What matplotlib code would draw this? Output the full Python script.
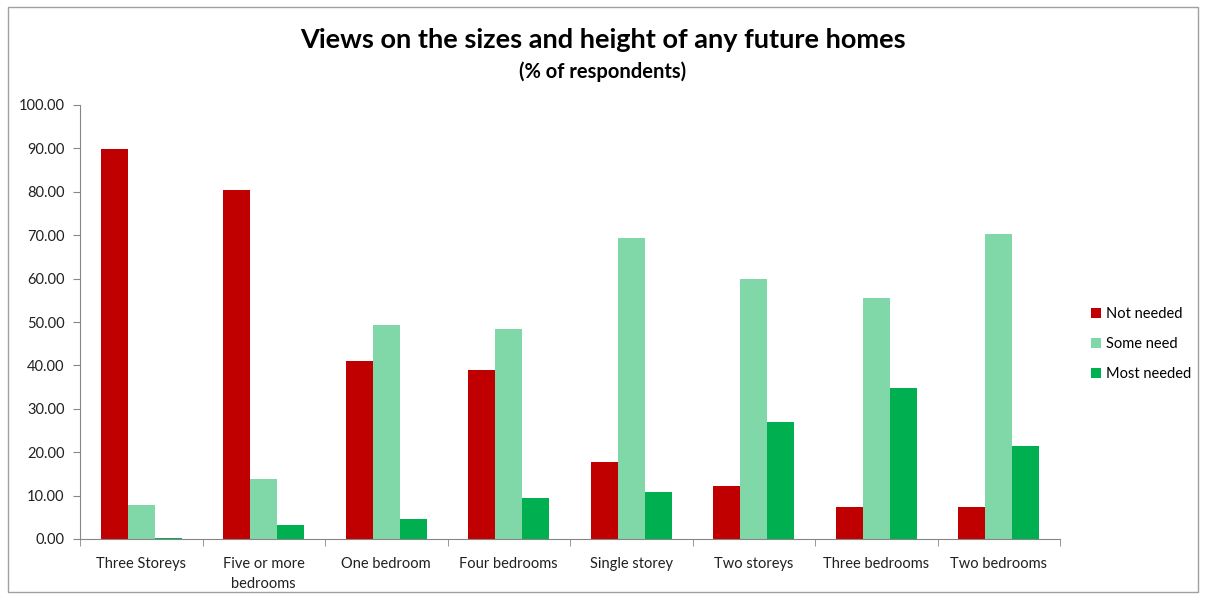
import matplotlib
matplotlib.use("Agg")
import matplotlib.pyplot as plt
import numpy as np
from matplotlib.patches import Rectangle

categories = ["Three Storeys", "Five or more\nbedrooms", "One bedroom", "Four bedrooms",
              "Single storey", "Two storeys", "Three bedrooms", "Two bedrooms"]
not_needed = [89.9, 80.5, 40.9, 38.9, 17.7, 12.2, 7.4, 7.4]
some_need = [7.8, 13.8, 49.2, 48.5, 69.4, 59.8, 55.6, 70.3]
most_needed = [0.3, 3.2, 4.6, 9.4, 10.8, 26.9, 34.9, 21.4]
series_names = ["Not needed", "Some need", "Most needed"]
colors = ["#C00000", "#80D8A8", "#00B050"]
yticks = np.arange(0, 101, 10)

plt.rcParams['font.family'] = ['Lato', 'DejaVu Sans']

fig = plt.figure(figsize=(12.05, 5.98), dpi=100)
fig.patches.append(Rectangle((8/1205, 6/598), 1190/1205, 585/598, transform=fig.transFigure,
                             fill=False, edgecolor="#A0A0A0", linewidth=1.0))
ax = fig.add_axes([80/1205, 59/598, 980/1205, 434/598])

x = np.arange(len(categories))
w = 0.22
for i, (vals, c, n) in enumerate(zip([not_needed, some_need, most_needed], colors, series_names)):
    ax.bar(x + (i - 1) * w, vals, width=w, color=c, label=n)

ax.set_xlim(-0.5, len(categories) - 0.5)
ax.set_ylim(0, 100)
ax.set_yticks(yticks)
ax.set_yticklabels([f"{v:.2f}" for v in yticks], fontsize=10.5, color="#202020")
ax.set_xticks(x)
ax.set_xticklabels(categories, fontsize=10.5, color="#202020", linespacing=1.5)
ax.tick_params(axis='x', length=0, pad=13)
ax.set_xticks(np.arange(-0.5, len(categories), 1), minor=True)
ax.tick_params(axis='x', which='minor', length=5, color="#868686")
ax.tick_params(axis='y', length=5, color="#868686", pad=6)
for s in ["top", "right"]:
    ax.spines[s].set_visible(False)
for s in ["left", "bottom"]:
    ax.spines[s].set_color("#868686")

fig.text(0.5, 1 - 40/598, "Views on the sizes and height of any future homes", ha="center", va="center",
         fontsize=19.5, fontweight="bold", color="black")
fig.text(0.5, 1 - 72/598, "(% of respondents)", ha="center", va="center",
         fontsize=14.5, fontweight="bold", color="black")

leg = fig.legend(loc="center left", bbox_to_anchor=(1078/1205, 1 - 344/598), frameon=False,
                 fontsize=10.5, handlelength=0.7, handleheight=0.7, handletextpad=0.3, labelspacing=1.1)

fig.savefig("out.png", dpi=100)
